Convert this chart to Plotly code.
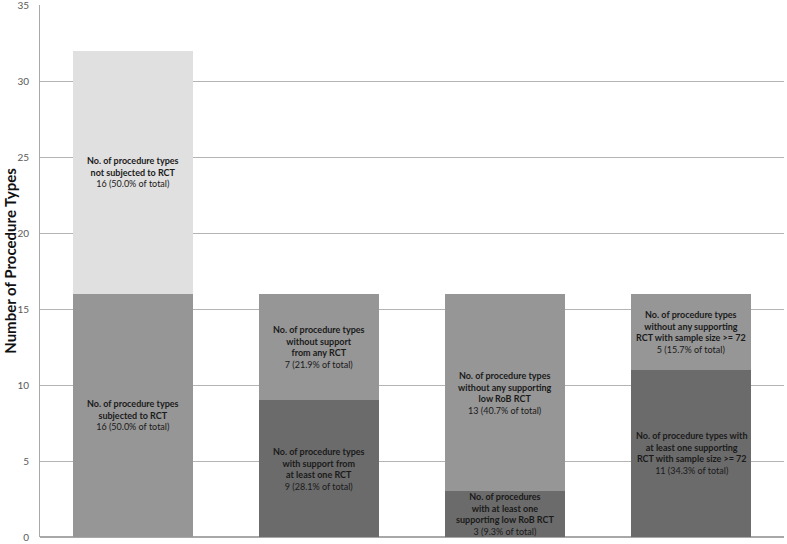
import plotly.graph_objects as go

categories = ["RCT subjected", "Support from RCT", "Low RoB RCT", "Sample size >= 72"]
bottom_values = [16, 9, 3, 11]
top_values = [16, 7, 13, 5]
bottom_labels = [
    "<b>No. of procedure types<br>subjected to RCT</b><br>16 (50.0% of total)",
    "<b>No. of procedure types<br>with support from<br>at least one RCT</b><br>9 (28.1% of total)",
    "<b>No. of procedures<br>with at least one<br>supporting low RoB RCT</b><br>3 (9.3% of total)",
    "<b>No. of procedure types with<br>at least one supporting<br>RCT with sample size >= 72</b><br>11 (34.3% of total)",
]
top_labels = [
    "<b>No. of procedure types<br>not subjected to RCT</b><br>16 (50.0% of total)",
    "<b>No. of procedure types<br>without support<br>from any RCT</b><br>7 (21.9% of total)",
    "<b>No. of procedure types<br>without any supporting<br>low RoB RCT</b><br>13 (40.7% of total)",
    "<b>No. of procedure types<br>without any supporting<br>RCT with sample size >= 72</b><br>5 (15.7% of total)",
]

LIGHT = "#e0e0e0"
MID = "#969696"
DARK = "#6b6b6b"
bottom_colors = [MID, DARK, DARK, DARK]
top_colors = [LIGHT, MID, MID, MID]

fig = go.Figure()
fig.add_trace(go.Bar(x=categories, y=bottom_values, marker=dict(color=bottom_colors, line=dict(width=0)),
                     hoverinfo="skip", showlegend=False))
fig.add_trace(go.Bar(x=categories, y=top_values, marker=dict(color=top_colors, line=dict(width=0)),
                     hoverinfo="skip", showlegend=False))

font = "Lato, 'Open Sans', sans-serif"
annotations = []
for c, b, t, bl, tl in zip(categories, bottom_values, top_values, bottom_labels, top_labels):
    annotations.append(dict(x=c, y=b / 2, xref="x", yref="y", text=bl, showarrow=False,
                            font=dict(family=font, size=9, color="#1a1a1a"), align="center"))
    annotations.append(dict(x=c, y=b + t / 2, xref="x", yref="y", text=tl, showarrow=False,
                            font=dict(family=font, size=9, color="#1a1a1a"), align="center"))
annotations.append(dict(x=-0.0405, y=0.519, xref="paper", yref="paper", text="<b>Number of Procedure Types</b>",
                        textangle=-90, showarrow=False, xanchor="center", yanchor="middle",
                        font=dict(family=font, size=15, color="#111111")))

fig.update_layout(
    barmode="stack",
    bargap=0.355,
    width=787, height=544,
    margin=dict(l=40, r=3, t=5, b=7, autoexpand=False),
    paper_bgcolor="white", plot_bgcolor="white",
    annotations=annotations,
    font=dict(family=font),
)
fig.update_xaxes(showticklabels=False, showgrid=False, showline=False, zeroline=False, ticks="",
                 automargin=False)
fig.update_yaxes(range=[0, 35], dtick=5, showgrid=True, gridcolor="#b4b4b4", gridwidth=1,
                 showline=True, linecolor="#a8a8a8", linewidth=1, zeroline=True, zerolinecolor="#a8a8a8",
                 ticks="", ticklabelstandoff=8, ticklabeloverflow="allow", automargin=False,
                 tickfont=dict(family=font, size=10, color="#595959"))

fig.write_html("out.html", config={"displayModeBar": False},
               post_script="document.body.style.margin='0';document.body.style.overflow='hidden';")
